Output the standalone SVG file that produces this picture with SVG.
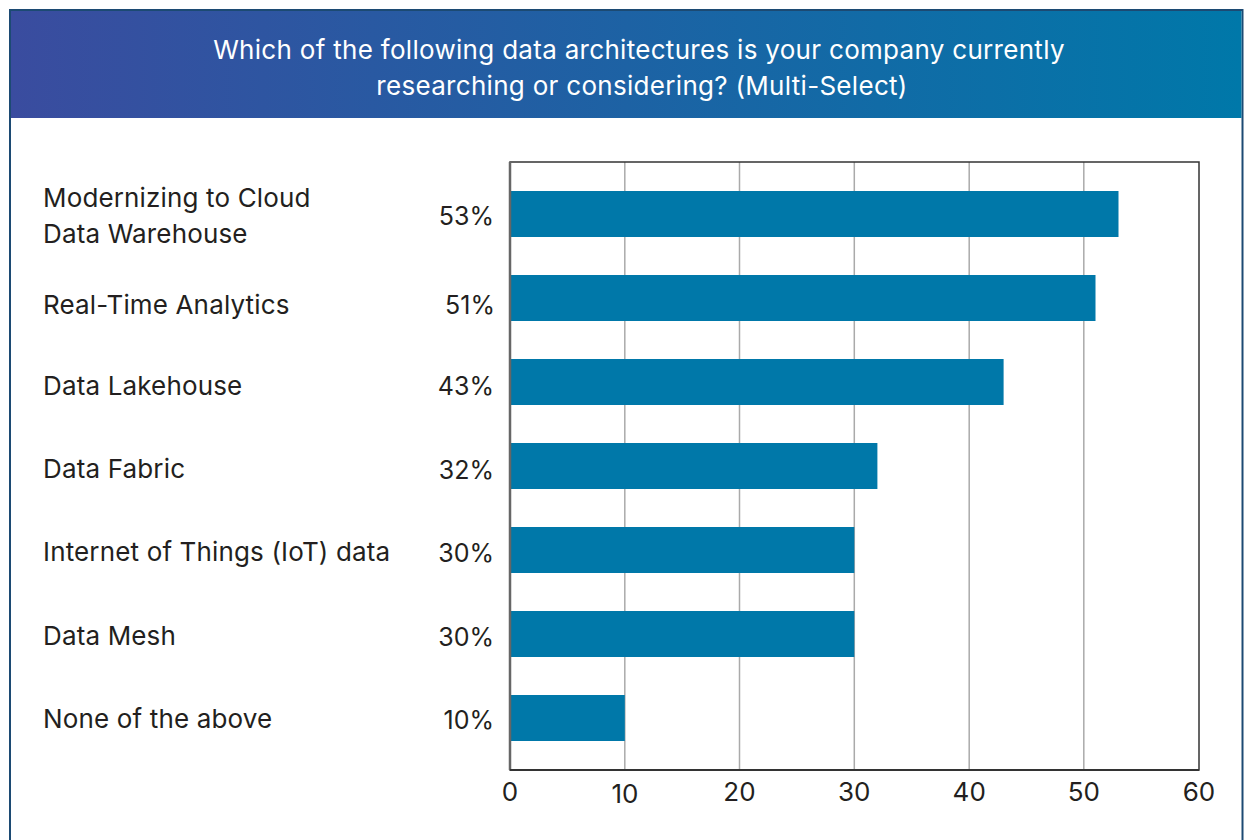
<svg xmlns="http://www.w3.org/2000/svg" width="1247" height="840" viewBox="0 0 1247 840">
<defs>
<linearGradient id="hdr" x1="0" y1="0" x2="1" y2="0">
<stop offset="0" stop-color="#3a4c9f"/>
<stop offset="1" stop-color="#0078a9"/>
</linearGradient>
</defs>
<style>
text{font-family:Inter,Roboto,"Liberation Sans",sans-serif;}
.t{fill:#ffffff;font-size:26px;letter-spacing:0.3px;text-anchor:middle;}
.lbl{fill:#231f20;font-size:26px;letter-spacing:0.15px;}
.pct{fill:#231f20;font-size:25px;text-anchor:end;}
.tick{fill:#231f20;font-size:26px;text-anchor:middle;}
.bar{fill:#0078a9;}
.grid{stroke:#aaaaaa;stroke-width:1.5;}
</style>
<rect x="0" y="0" width="1247" height="840" fill="#ffffff"/>
<g id="panel">
<rect x="10" y="10" width="1232.5" height="840" fill="#ffffff" stroke="#1c4a73" stroke-width="2"/>
<rect x="11" y="11" width="1230.5" height="107" fill="url(#hdr)"/>
</g>
<g id="title">
<text class="t" x="639" y="59">Which of the following data architectures is your company currently</text>
<text class="t" x="642" y="95">researching or considering? (Multi-Select)</text>
</g>
<g id="grid">
<line class="grid" x1="624.8" y1="162" x2="624.8" y2="770"/>
<line class="grid" x1="739.5" y1="162" x2="739.5" y2="770"/>
<line class="grid" x1="854.3" y1="162" x2="854.3" y2="770"/>
<line class="grid" x1="969.2" y1="162" x2="969.2" y2="770"/>
<line class="grid" x1="1083.8" y1="162" x2="1083.8" y2="770"/>
</g>
<g id="bars">
<rect class="bar" x="510" y="191" width="608.5" height="46"/>
<rect class="bar" x="510" y="275" width="585.5" height="46"/>
<rect class="bar" x="510" y="359" width="493.6" height="46"/>
<rect class="bar" x="510" y="443" width="367.4" height="46"/>
<rect class="bar" x="510" y="527" width="344.3" height="46"/>
<rect class="bar" x="510" y="611" width="344.3" height="46"/>
<rect class="bar" x="510" y="695" width="114.8" height="46"/>
</g>
<g id="frame">
<rect x="510" y="162" width="689" height="608" fill="none" stroke="#333333" stroke-width="1.5"/>
<line x1="510" y1="162" x2="510" y2="770" stroke="#666666" stroke-width="2.5"/>
<line x1="510" y1="770" x2="1199" y2="770" stroke="#333333" stroke-width="2"/>
</g>
<g id="labels">
<text class="lbl" x="43" y="207">Modernizing to Cloud</text>
<text class="lbl" x="43" y="243">Data Warehouse</text>
<text class="lbl" x="43" y="314">Real-Time Analytics</text>
<text class="lbl" x="43" y="395">Data Lakehouse</text>
<text class="lbl" x="43" y="478">Data Fabric</text>
<text class="lbl" x="43" y="561">Internet of Things (IoT) data</text>
<text class="lbl" x="43" y="645">Data Mesh</text>
<text class="lbl" x="43" y="728">None of the above</text>
</g>
<g id="values">
<text class="pct" x="494" y="225">53%</text>
<text class="pct" x="495" y="314">51%</text>
<text class="pct" x="494" y="395">43%</text>
<text class="pct" x="494" y="479">32%</text>
<text class="pct" x="494" y="562">30%</text>
<text class="pct" x="494" y="646">30%</text>
<text class="pct" x="494" y="729">10%</text>
</g>
<g id="axis">
<text class="tick" x="510" y="801">0</text>
<text class="tick" x="625" y="803">10</text>
<text class="tick" x="739.5" y="801">20</text>
<text class="tick" x="854.3" y="801">30</text>
<text class="tick" x="969.2" y="801">40</text>
<text class="tick" x="1083.8" y="801">50</text>
<text class="tick" x="1199" y="801">60</text>
</g>
</svg>
